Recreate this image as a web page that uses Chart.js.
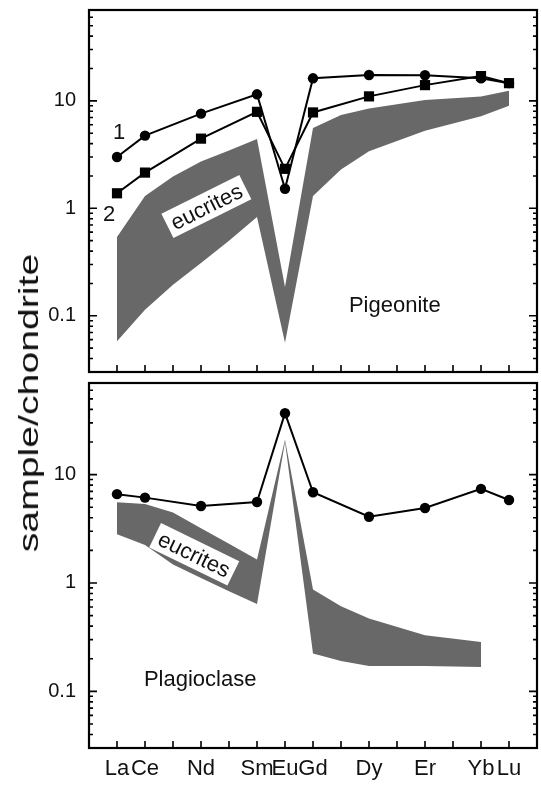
<!DOCTYPE html>
<html>
<head>
<meta charset="utf-8">
<script src="https://cdn.jsdelivr.net/npm/chart.js@4.4.1/dist/chart.umd.min.js"></script>
<style>
  html, body { margin: 0; padding: 0; background: #fff; }
  #wrap { position: relative; width: 541px; height: 785px; overflow: hidden; }
  #topChart { position: absolute; left: 0; top: 0; }
  #bottomChart { position: absolute; left: 0; top: 378px; }
  #yTitle {
    position: absolute; left: 29px; top: 403px;
    font: 28px "Liberation Sans", Arial, sans-serif; color: #111;
    white-space: nowrap; line-height: 1;
    transform: translate(-50%, -50%) rotate(-90deg) scaleX(1.4);
  }
</style>
</head>
<body>
<div id="wrap">
  <canvas id="topChart" width="541" height="378"></canvas>
  <canvas id="bottomChart" width="541" height="407"></canvas>
  <div id="yTitle">sample/chondrite</div>
</div>
<script>
// x = atomic number of each REE
const elementNumbers = [57, 58, 60, 62, 63, 64, 66, 68, 70, 71];
const elementLabels = ['La', 'Ce', 'Nd', 'Sm', 'Eu', 'Gd', 'Dy', 'Er', 'Yb', 'Lu'];
const yTickLabels = [0.1, 1, 10];

// pigeonite panel
const pigeonite1 = [3.0, 4.75, 7.6, 11.5, 1.52, 16.2, 17.4, 17.3, 16.2, 14.6];
const pigeonite2 = [1.38, 2.15, 4.45, 7.9, 2.33, 7.8, 11.0, 14.0, 17.0, 14.6];
const pigBandX = [57, 58, 59, 60, 61, 62, 63, 64, 65, 66, 68, 70, 71];
const pigBandUpper = [0.54, 1.3, 1.98, 2.72, 3.45, 4.42, 0.185, 5.6, 7.4, 8.5, 10.2, 11.0, 12.4];
const pigBandLower = [0.058, 0.114, 0.194, 0.31, 0.5, 0.83, 0.056, 1.3, 2.3, 3.4, 5.27, 7.2, 9.0];

// plagioclase panel
const plagioclase = [6.6, 6.13, 5.13, 5.59, 36.8, 6.87, 4.08, 4.92, 7.38, 5.83];
const plagBandX = [57, 58, 59, 60, 61, 62, 63, 64, 65, 66, 68, 70];
const plagBandUpper = [5.55, 5.35, 4.48, 3.2, 2.3, 1.65, 21, 0.87, 0.61, 0.47, 0.33, 0.286];
const plagBandLower = [2.82, 2.24, 1.48, 1.11, 0.84, 0.64, 20, 0.223, 0.19, 0.171, 0.171, 0.168];

const FONT = '"Liberation Sans", Arial, sans-serif';
const BAND_GRAY = '#686868';
Chart.defaults.font.family = FONT;
Chart.defaults.color = '#111';

function pts(xs, ys) {
    return xs.map((x, i) => ({ x: x, y: ys[i] }));
}

function minorTicks() {
    const out = [];
    [0.01, 0.1, 1, 10].forEach(d => {
        for (let m = 1; m <= 9; m++) {
            const v = parseFloat((m * d).toPrecision(3));
            if (v >= 0.03 && v <= 70) out.push({ value: v });
        }
    });
    return out;
}

// frame + inward tick marks
const framePlugin = {
    id: 'frame',
    afterDraw(chart) {
        const { ctx, chartArea: a, scales } = chart;
        ctx.save();
        ctx.strokeStyle = '#000';
        ctx.lineWidth = 1.6;
        ctx.beginPath();
        scales.y.ticks.forEach(t => {
            const py = scales.y.getPixelForValue(t.value);
            const len = yTickLabels.includes(t.value) ? 8 : 4;
            ctx.moveTo(a.left, py); ctx.lineTo(a.left + len, py);
            ctx.moveTo(a.right, py); ctx.lineTo(a.right - len, py);
        });
        for (let n = 57; n <= 71; n++) {
            const px = scales.x.getPixelForValue(n);
            ctx.moveTo(px, a.bottom); ctx.lineTo(px, a.bottom - 7);
        }
        ctx.stroke();
        ctx.lineWidth = 2.2;
        ctx.strokeRect(a.left, a.top, a.right - a.left, a.bottom - a.top);
        ctx.restore();
    }
};

// labels placed in data coordinates
const panelTextPlugin = {
    id: 'panelText',
    afterDatasetsDraw(chart, args, opts) {
        const { ctx, scales } = chart;
        (opts.items || []).forEach(it => {
            const px = scales.x.getPixelForValue(it.x);
            const py = scales.y.getPixelForValue(it.y);
            ctx.save();
            ctx.translate(px, py);
            ctx.rotate((it.angle || 0) * Math.PI / 180);
            ctx.font = (it.size || 22) + 'px ' + FONT;
            ctx.textAlign = 'center';
            ctx.textBaseline = 'middle';
            if (it.box) {
                const w = ctx.measureText(it.text).width;
                ctx.fillStyle = '#fff';
                ctx.fillRect(-w / 2 - 5, -14, w + 10, 27);
            }
            ctx.fillStyle = '#111';
            ctx.fillText(it.text, 0, 1);
            ctx.restore();
        });
    }
};

function makeOptions(showXLabels, padding, texts) {
    return {
        responsive: false,
        animation: false,
        layout: { padding: padding, autoPadding: false },
        plugins: {
            legend: { display: false },
            tooltip: { enabled: false },
            panelText: { items: texts }
        },
        scales: {
            x: {
                type: 'linear',
                min: 56,
                max: 72,
                display: showXLabels,
                grid: { display: false, drawTicks: false },
                border: { display: false },
                ticks: {
                    stepSize: 1,
                    autoSkip: false,
                    maxRotation: 0,
                    padding: 8,
                    font: { size: 22 },
                    callback: v => {
                        const i = elementNumbers.indexOf(v);
                        return i >= 0 ? elementLabels[i] : '';
                    }
                },
                afterFit: s => {
                    s.height = showXLabels ? 37 : 0;
                    s.paddingLeft = 0;
                    s.paddingRight = 0;
                }
            },
            y: {
                type: 'logarithmic',
                min: 0.03,
                max: 70,
                grid: { display: false, drawTicks: false },
                border: { display: false },
                ticks: {
                    autoSkip: false,
                    padding: 13,
                    font: { size: 20 },
                    callback: v => yTickLabels.includes(v) ? String(v) : ''
                },
                afterBuildTicks: s => { s.ticks = minorTicks(); },
                afterFit: s => {
                    s.width = 89;
                    s.paddingTop = 0;
                    s.paddingBottom = 0;
                }
            }
        }
    };
}

function lineSet(data, style, radius) {
    return {
        data: data,
        borderColor: '#000',
        borderWidth: 2,
        backgroundColor: '#000',
        pointStyle: style,
        pointRadius: radius,
        pointBorderWidth: 0,
        pointBackgroundColor: '#000',
        tension: 0,
        fill: false,
        order: 0
    };
}

function bandSet(data, fill) {
    return {
        data: data,
        borderColor: 'rgba(0,0,0,0)',
        borderWidth: 0,
        backgroundColor: BAND_GRAY,
        pointRadius: 0,
        tension: 0,
        fill: fill,
        order: 1
    };
}

new Chart(document.getElementById('topChart'), {
    type: 'line',
    data: {
        datasets: [
            lineSet(pts(elementNumbers, pigeonite2), 'rect', 7.2),
            lineSet(pts(elementNumbers, pigeonite1), 'circle', 5.2),
            bandSet(pts(pigBandX, pigBandUpper), false),
            bandSet(pts(pigBandX, pigBandLower), '-1')
        ]
    },
    options: makeOptions(false, { top: 10, right: 4, bottom: 6, left: 0 }, [
        { text: '1', x: 57.08, y: 5.1 },
        { text: '2', x: 56.72, y: 0.88 },
        { text: 'eucrites', x: 60.2, y: 1.03, angle: -26.5, box: true },
        { text: 'Pigeonite', x: 66.92, y: 0.126 }
    ]),
    plugins: [framePlugin, panelTextPlugin]
});

new Chart(document.getElementById('bottomChart'), {
    type: 'line',
    data: {
        datasets: [
            lineSet(pts(elementNumbers, plagioclase), 'circle', 5.2),
            bandSet(pts(plagBandX, plagBandUpper), false),
            bandSet(pts(plagBandX, plagBandLower), '-1')
        ]
    },
    options: makeOptions(true, { top: 5, right: 4, bottom: 0, left: 0 }, [
        { text: 'eucrites', x: 59.75, y: 1.82, angle: 26, box: true },
        { text: 'Plagioclase', x: 59.97, y: 0.131 }
    ]),
    plugins: [framePlugin, panelTextPlugin]
});
</script>
</body>
</html>
